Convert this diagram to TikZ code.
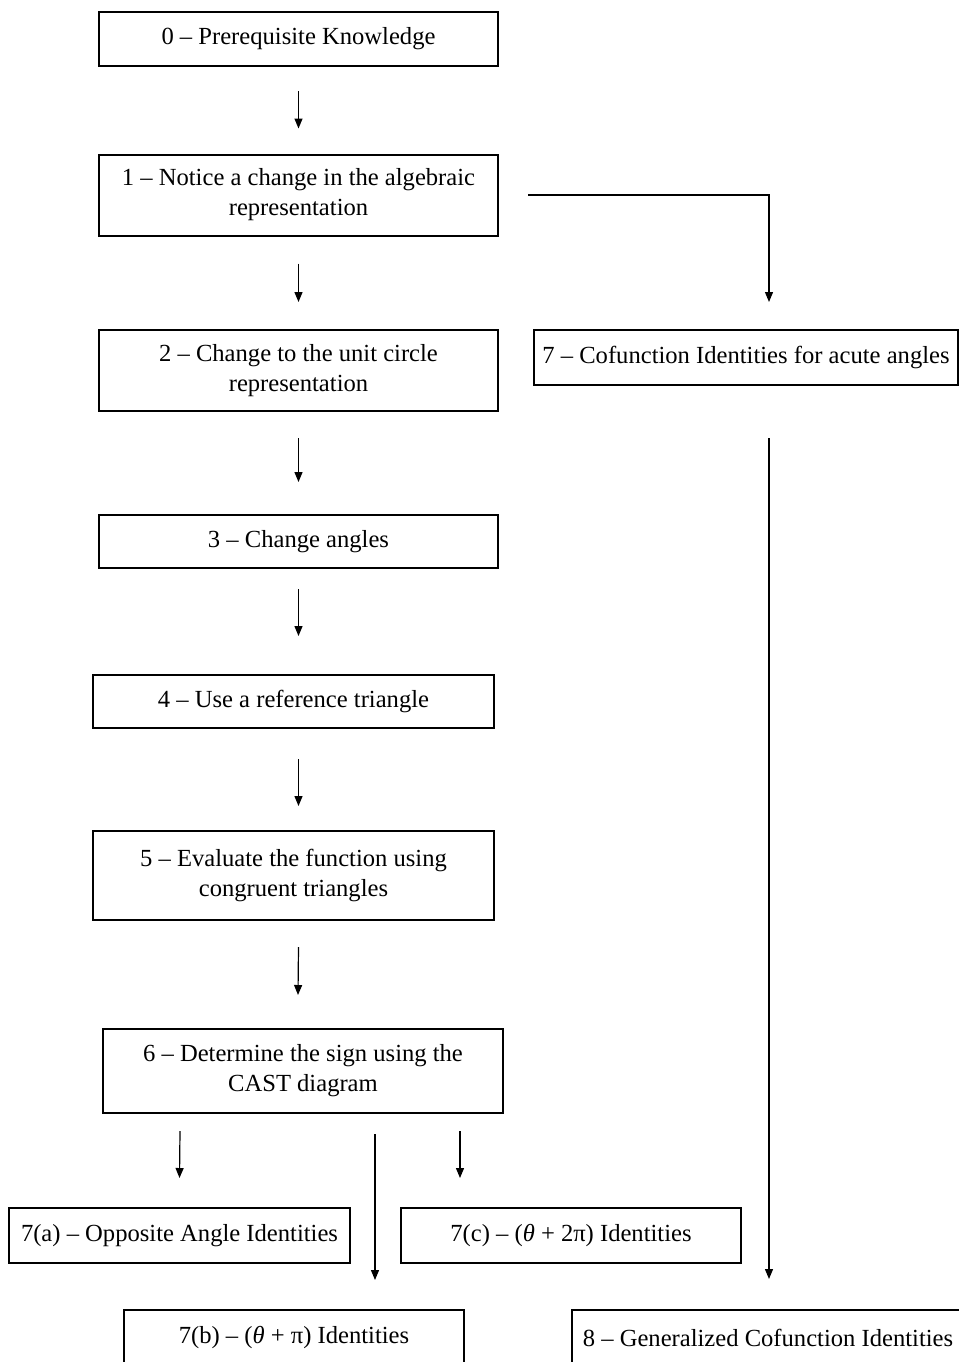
\documentclass[tikz,border=0pt]{standalone}
\usepackage{fontspec}
\setmainfont{Liberation Serif}
\usetikzlibrary{arrows.meta}

\tikzset{
  stepbox/.style={draw, line width=1pt, rectangle, inner sep=0pt, align=center,
    font=\fontsize{12.3}{15}\selectfont},
  arr/.style={line width=0.6pt, -{Triangle[length=5pt,width=4pt]}}
}

\begin{document}
\begin{tikzpicture}[x=0.5pt, y=-0.5pt]
    \useasboundingbox (0,0) rectangle (959,1362);
    \clip (0,0) rectangle (959,1362);
    % main column
    \node[stepbox, minimum width=199.5pt, minimum height=27pt] (b0) at (298.5,39) {0 -- Prerequisite Knowledge};
    \node[stepbox, minimum width=199.5pt, minimum height=40.5pt] (b1) at (298.5,195) {1 -- Notice a change in the algebraic\\representation};
    \node[stepbox, minimum width=199.5pt, minimum height=40.5pt] (b2) at (298.5,370.5) {2 -- Change to the unit circle\\representation};
    \node[stepbox, minimum width=199.5pt, minimum height=26.5pt] (b3) at (298.5,541.5) {3 -- Change angles};
    \node[stepbox, minimum width=200.5pt, minimum height=26.5pt] (b4) at (293.5,701.5) {4 -- Use a reference triangle};
    \node[stepbox, minimum width=200.5pt, minimum height=44.5pt] (b5) at (293.5,875.5) {5 -- Evaluate the function using\\congruent triangles};
    \node[stepbox, minimum width=200pt, minimum height=42pt] (b6) at (303,1071) {6 -- Determine the sign using the\\CAST diagram};
    % branches
    \node[stepbox, minimum width=212pt, minimum height=27.5pt] (b7) at (746,357.5) {7 -- Cofunction Identities for acute angles};
    \node[stepbox, minimum width=170.5pt, minimum height=27.5pt] (b7a) at (179.5,1235.5) {7(a) -- Opposite Angle Identities};
    \node[stepbox, minimum width=170pt, minimum height=27.5pt] (b7c) at (571,1235.5) {7(c) -- (\textit{θ} + 2π) Identities};
    \node[stepbox, minimum width=170pt, minimum height=27.5pt] (b7b) at (294,1337.5) {7(b) -- (\textit{θ} + π) Identities};
    \node[stepbox, minimum width=196pt, minimum height=27.5pt] (b8) at (768,1337.5) {8 -- Generalized Cofunction Identities};

    \draw[arr] ([yshift=-12pt]b0.south) -- ([yshift=12.5pt]b1.north);
    \draw[arr] ([yshift=-13.5pt]b1.south) -- ([yshift=13.5pt]b2.north);
    \draw[arr] ([yshift=-13pt]b2.south) -- ([yshift=16pt]b3.north);
    \draw[arr] ([yshift=-10pt]b3.south) -- ([xshift=2.5pt,yshift=19pt]b4.north);
    \draw[arr] ([xshift=2.5pt,yshift=-15pt]b4.south) -- ([xshift=2.5pt,yshift=12pt]b5.north);
    \draw[arr] ([xshift=2.5pt,yshift=-13pt]b5.south) -- ([xshift=-2.5pt,yshift=16.5pt]b6.north);
    \draw[arr] ([xshift=-61.5pt,yshift=-8.5pt]b6.south) -- ([yshift=14.5pt]b7a.north);
    \draw[arr] ([xshift=36pt,yshift=-10pt]b6.south) -- ([xshift=40.5pt,yshift=14.5pt]b7b.north);
    \draw[arr] ([xshift=78.5pt,yshift=-8.5pt]b6.south) -- ([xshift=-55.5pt,yshift=14.5pt]b7c.north);
    \draw[arr] ([xshift=14.5pt]b1.east) -| ([xshift=11.5pt,yshift=13.5pt]b7.north);
    \draw[arr] ([xshift=11.5pt,yshift=-26pt]b7.south) -- ([xshift=0.5pt,yshift=15pt]b8.north);
  \end{tikzpicture}
\end{document}
